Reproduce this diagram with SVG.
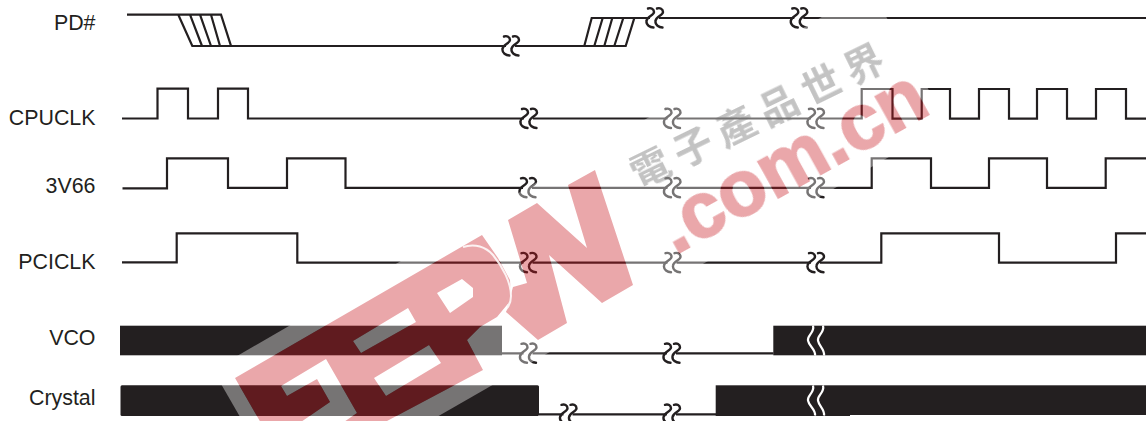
<svg xmlns="http://www.w3.org/2000/svg" width="1146" height="421" viewBox="0 0 1146 421">
<style>
.lbl{font-family:"Liberation Sans",Arial,sans-serif;font-size:21.4px;fill:#231f20;text-anchor:end}
.w{fill:none;stroke:#231f20;stroke-width:2.2;stroke-linejoin:miter}
.sq{fill:none;stroke:#231f20;stroke-width:2.4;stroke-linecap:round}
.bar{fill:#231f20}
.brk{fill:none;stroke:#fff;stroke-width:2.2}
.dotcom{font-family:"Liberation Sans",Arial,sans-serif;font-weight:700;font-size:78px;stroke-width:2px}
.cn{font-family:"Noto Sans CJK TC","Noto Sans CJK SC",sans-serif;font-weight:700;font-size:39px;letter-spacing:8.5px;fill:#6f6f6f;fill-opacity:.42}
</style>
<defs>
<g id="sqg">
<path class="sq" d="M-6,-9.5C-3,-10.5 0,-9 0,-6C0,-2.5 -7,-2 -7.5,3C-8,7 -4,9.5 -0.5,9.5"/>
<path class="sq" d="M3,-9.5C6,-10.5 9,-9 9,-6C9,-2.5 2,-2 1.5,3C1,7 5,9.5 8.5,9.5"/>
</g>
<path id="wbrk" class="brk" d="M813,-15C815,-8 807,-5 808,0C809,6 816,9 815,15M823,-15C825,-8 817,-5 818,0C819,6 825,9 824,15"/>
<g id="wm-shapes">
<path stroke="none" fill-rule="evenodd" d="M235,378L482,235L498,258L510,280L511,300L497,317L480,327L467,340L483,370L387,421L387,430L265,430ZM281,386L326,359L357,413L341,424L298,424L330,402L317,379L287,396ZM353,341L408,308L416,322L361,353ZM374,378L429,345L441,363L386,396ZM437,293L462,279L473,288L473,297L450,313Z"/>
<path stroke="none" d="M508,220L537,203L587,248L568,185L595,170L633,285L602,303L549,255L567,323L538,340L506,312L513,287L527,283Z"/>
<text class="dotcom" transform="translate(675,255) rotate(-29)">.com.cn</text>
</g>
<mask id="halo-mask" maskUnits="userSpaceOnUse" x="0" y="0" width="1146" height="421">
<rect width="1146" height="421" fill="#fff"/>
<use href="#wm-shapes" fill="#000" stroke="#000"/>
</mask>
</defs>
<rect width="1146" height="421" fill="#fff"/>

<g id="connectors">
<g id="wave-pd">
<path class="w" d="M127,14.7H221L231,46H192.3L178.3,14.7M190,14.7L202,46M200,14.7L211,46M211,14.7L220,46M192.3,46H506M515,46H584.3L591.7,18H634.3L625.7,46H584.3M594.3,46L602.7,18M604.3,46L612.3,18M614.3,46L623.3,18M634.3,18H650M659,18H794.3M803.3,18H1146"/>
<use href="#sqg" x="510" y="46"/><use href="#sqg" x="654" y="18"/><use href="#sqg" x="798.3" y="18"/>
</g>
<g id="wave-cpuclk">
<path class="w" d="M122,118.5H157.5V88.7H188V118.5H218V88.7H248V118.5H524M533,118.5H667.5M676.5,118.5H811M820,118.5H861.7V89H892.5V118.7H921.7V89H950V118.7H979V89H1009V118.7H1037V89H1067V118.7H1096V89H1126V118.7H1146"/>
<use href="#sqg" x="528" y="118.5"/><use href="#sqg" x="671.5" y="118.5"/><use href="#sqg" x="815" y="118.5"/>
</g>
<g id="wave-3v66">
<path class="w" d="M122.5,188.3H167V158.3H228V187.8H287V158.3H345.5V187.8H523M532,187.8H667.5M676.5,187.8H811M820,187.8H871.7V158.3H931V187.8H989V158.3H1047V187.8H1105.7V158.3H1146"/>
<use href="#sqg" x="527" y="187.8"/><use href="#sqg" x="671.5" y="187.8"/><use href="#sqg" x="815" y="187.8"/>
</g>
<g id="wave-pciclk">
<path class="w" d="M122,262.3H176.7V233.3H297.3V262.7H523.5M532.5,262.7H667.5M676.5,262.7H811M820,262.7H881.3V233.3H999V262.7H1116V233.3H1146"/>
<use href="#sqg" x="527.5" y="262.7"/><use href="#sqg" x="671.5" y="262.7"/><use href="#sqg" x="815" y="262.7"/>
</g>
<g id="wave-vco">
<path class="w" d="M502,353.3H523.5M532.5,353.3H667M676,353.3H773.5"/>
<use href="#sqg" x="527.5" y="353.3"/><use href="#sqg" x="671" y="353.3"/>
<rect class="bar" x="120" y="325.7" width="382" height="29.6"/>
<rect class="bar" x="773.3" y="325.7" width="372.7" height="29.6"/>
<use href="#wbrk" y="340.5"/>
</g>
<g id="wave-crystal">
<path class="w" d="M539,414.3H563.5M572.5,414.3H667M676,414.3H716"/>
<use href="#sqg" x="567.5" y="414.3"/><use href="#sqg" x="671" y="414.3"/>
<rect class="bar" x="120.5" y="385.3" width="418.5" height="30.7" rx="1.5"/>
<rect class="bar" x="715.7" y="385.3" width="134.3" height="30.7"/>
<rect class="bar" x="850" y="385.3" width="296" height="29.7"/>
<use href="#wbrk" y="400.5"/>
</g>
</g>

<g id="node-pd"><text class="lbl" x="95.5" y="30">PD#</text></g>
<g id="node-cpuclk"><text class="lbl" x="95.5" y="124.5">CPUCLK</text></g>
<g id="node-3v66"><text class="lbl" x="95.5" y="192.7">3V66</text></g>
<g id="node-pciclk"><text class="lbl" x="95.5" y="269.3">PCICLK</text></g>
<g id="node-vco"><text class="lbl" x="95.5" y="345">VCO</text></g>
<g id="node-crystal"><text class="lbl" x="95.5" y="405">Crystal</text></g>

<g id="watermark">
<polygon points="213,370 870,-11 948,123 289,502" fill="#fff" fill-opacity=".38" mask="url(#halo-mask)"/>
<use href="#wm-shapes" fill="#c6171f" stroke="#c6171f" opacity=".38"/>
<path d="M463,247C475,243 486,247 493,255C503,267 511,283 511,296C511,305 506,311 500,315" fill="none" stroke="#fff" stroke-width="2" stroke-opacity=".85"/>
<text class="cn" transform="translate(639,189) rotate(-26)">電子產品世界</text>
</g>
</svg>
